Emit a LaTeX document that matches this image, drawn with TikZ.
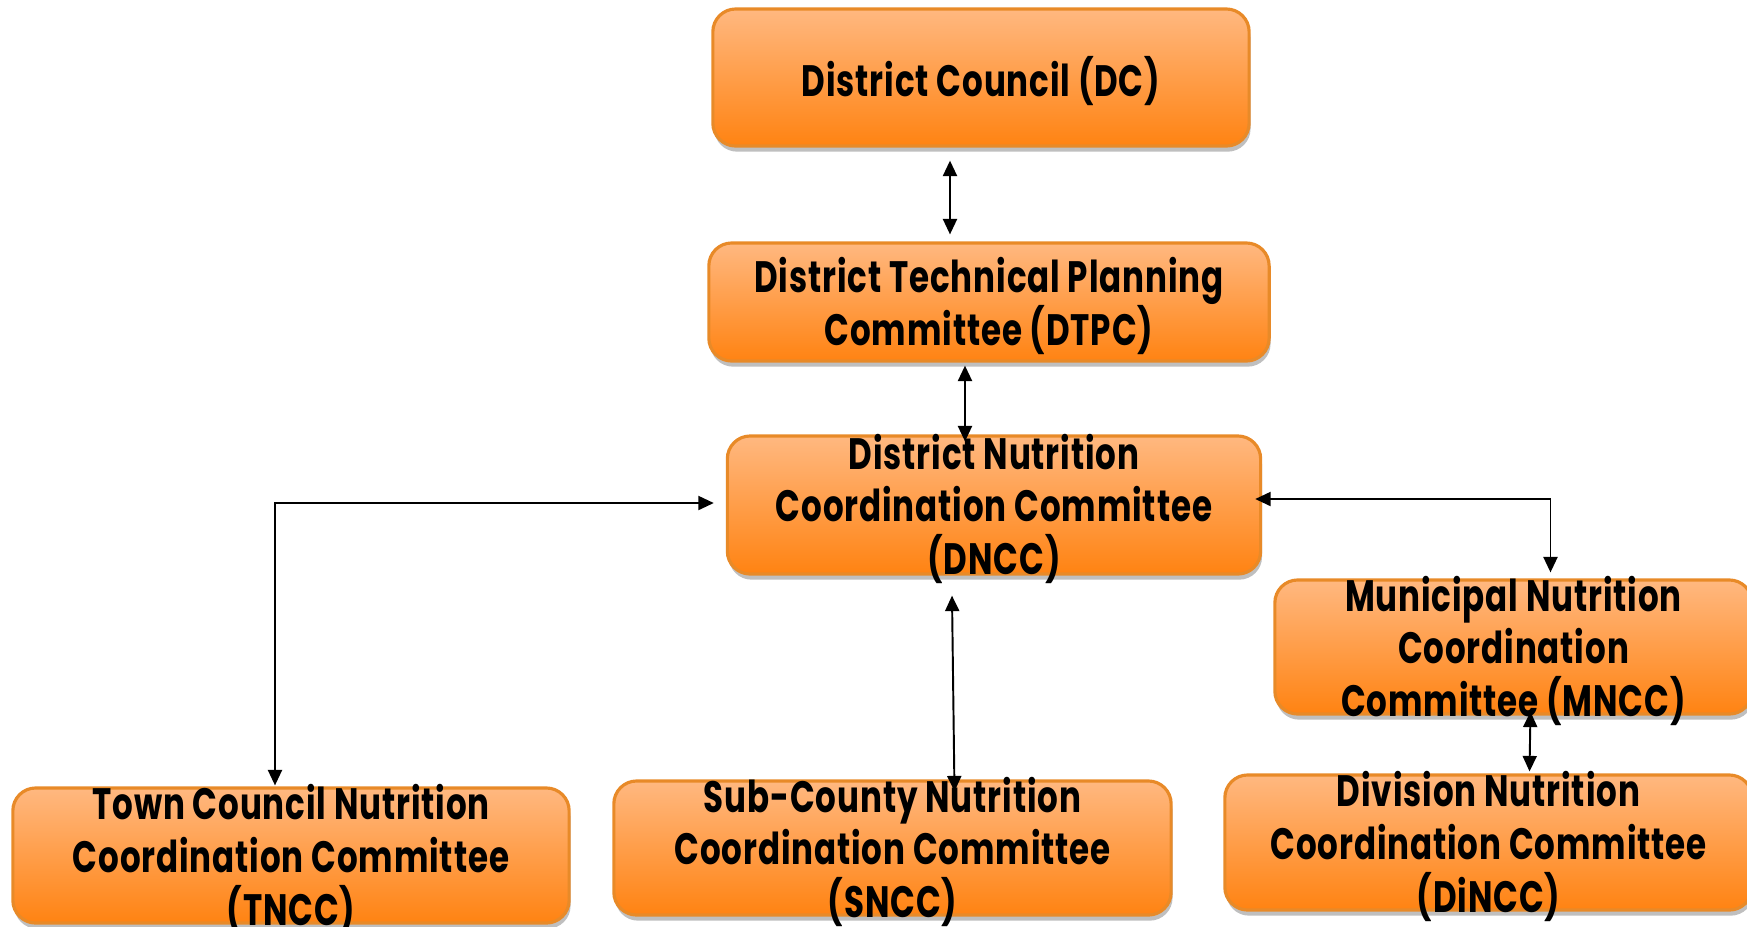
\documentclass[tikz,border=0pt]{standalone}
\usepackage{fontspec}
\setmainfont{Poppins}[FakeStretch=0.74,LetterSpace=2]
\usepackage{tikz}
\usetikzlibrary{arrows.meta,calc,shadows}

\definecolor{boxtop}{RGB}{255,184,128}
\definecolor{boxbot}{RGB}{255,131,18}
\definecolor{boxedge}{RGB}{232,138,40}

\begin{document}
\begin{tikzpicture}[x=0.01cm, y=-0.01cm,
  box/.style={draw=boxedge, line width=0.9pt, rounded corners=6.5pt,
    top color=boxtop, bottom color=boxbot, inner sep=0pt,
    drop shadow={shadow xshift=0.4pt, shadow yshift=-1.6pt, fill=black, opacity=0.25}},
  lbl/.style={align=center, inner sep=0pt, yshift=-1.1pt,
    font=\fontsize{12.5}{15}\selectfont\bfseries},
  arr/.style={{Triangle[length=4.4pt,width=4pt]}-{Triangle[length=4.4pt,width=4pt]},
    line width=0.55pt}]
  \useasboundingbox (0,0) rectangle (1747,926);

  % district level
  \node[box, minimum width=5.36cm, minimum height=1.37cm] (dc) at (981,77.5) {};
  \node[lbl] (dc-t) at (dc) {District Council (DC)};
  \node[box, minimum width=5.60cm, minimum height=1.18cm] (dtpc) at (989,302) {};
  \node[lbl] (dtpc-t) at (dtpc) {District Technical Planning\\Committee (DTPC)};
  \node[box, minimum width=5.33cm, minimum height=1.38cm] (dncc) at (994,505) {};
  \node[lbl] (dncc-t) at (dncc) {District Nutrition\\Coordination Committee\\(DNCC)};

  % lower levels
  \node[box, minimum width=4.77cm, minimum height=1.34cm] (mncc) at (1513.5,647) {};
  \node[lbl] (mncc-t) at (mncc) {Municipal Nutrition\\Coordination\\Committee (MNCC)};
  \node[box, minimum width=5.27cm, minimum height=1.35cm] (dincc) at (1488.5,842.5) {};
  \node[lbl] (dincc-t) at (dincc) {Division Nutrition\\Coordination Committee\\(DiNCC)};
  \node[box, minimum width=5.56cm, minimum height=1.35cm] (tncc) at (291,855.5) {};
  \node[lbl] (tncc-t) at (tncc) {Town Council Nutrition\\Coordination Committee\\(TNCC)};
  \node[box, minimum width=5.57cm, minimum height=1.34cm] (sncc) at (892.5,848) {};
  \node[lbl] (sncc-t) at (sncc) {Sub-County Nutrition\\Coordination Committee\\(SNCC)};

  % two-way links
  \draw[arr] ($(dc.south)+(-31,13)$) -- ($(dtpc.north)+(-39,-7)$);
  \draw[arr] ($(dtpc.south)+(-24,3)$) -- ($(dncc.north)+(-29,7)$);
  \draw[arr] ($(dncc.south)+(-42,20)$) -- ($(sncc.north)+(62,12)$);
  \draw[arr] ($(dncc.west)+(-12,-2)$) -| ($(tncc.north)+(-16,-1)$);
  \draw[arr] ($(dncc.east)+(-7,-6)$) -| ($(mncc.north)+(37,-6)$);
  \draw[arr] ($(mncc.south)+(17,-4)$) -- ($(dincc.north)+(41,-2)$);
\end{tikzpicture}
\end{document}
